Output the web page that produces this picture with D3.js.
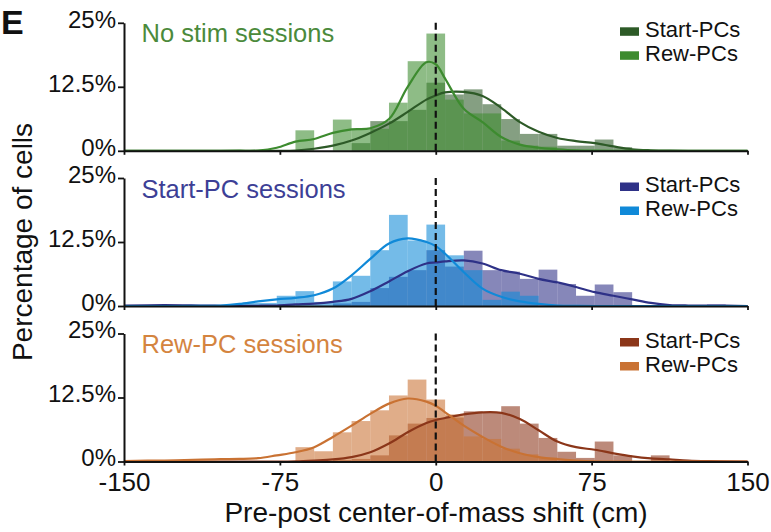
<!DOCTYPE html>
<html><head><meta charset="utf-8">
<script src="https://cdn.jsdelivr.net/npm/d3@7"></script>
<style>body{margin:0;background:#fff}svg{display:block;font-family:"Liberation Sans",Arial,sans-serif}</style>
</head><body><svg id="c" width="771" height="532"></svg>
<script>
// ---- data (percentage of cells) ----
const binCenters = [-90,-81,-72,-63,-54,-45,-36,-27,-18,-9,0,9,18,27,36,45,54,63,72,81,90,99,108,117,126,135];
const binWidth = 9;
const panelTitles = ["No stim sessions","Start-PC sessions","Rew-PC sessions"];
const seriesNames = ["Start-PCs","Rew-PCs"];
const xTicks = [-150,-75,0,75,150];
const yTicks = [0,12.5,25];

const noStimStart = [0,0,0,0,0,0,1.5,5.8,5.8,8.0,13.3,11.0,12.0,9.1,6.2,3.3,3.3,1.0,1.0,2.2,0.7,0,0,0,0,0];
const noStimRew   = [0,0,0,4.0,0,6.1,4.3,4.3,9.4,17.5,22.9,10.0,7.3,7.3,2.0,1.0,0.8,0,0,0,0,0,0,0,0,0];
const startSesStart = [0,0,0,0,0,0.5,0.8,3.5,5.7,7.0,10.9,7.7,10.8,7.0,6.7,5.3,7.1,4.3,2.0,4.2,2.7,0,0,0,0,0.3];
const startSesRew   = [0.6,0.6,2.0,2.9,0.8,4.8,5.9,10.9,17.8,12.8,15.9,9.9,7.0,1.2,2.8,2.0,0,0,0,0,0,0,0,0,0,0];
const rewSesStart = [0,0,0,0,0,0.3,0.5,1.2,5.1,7.4,8.5,8.6,9.8,9.6,10.8,7.4,4.6,1.9,0.7,3.9,1.2,0,1.2,0,0,0];
const rewSesRew   = [0,0,0,2.8,2.0,5.7,7.9,10.0,12.9,16.0,12.1,9.2,4.9,4.4,2.5,1.4,0.8,0,0,0,0,0,0,0,0,0];

// density curves (percent)
const curveX = [-150,-130.5,-112.5,-103.5,-94.5,-85.5,-76.5,-67.5,-58.5,-49.5,-40.5,-31.5,-22.5,-13.5,-4.5,0,4.5,13.5,22.5,31.5,40.5,49.5,58.5,67.5,76.5,85.5,94.5,103.5,112.5,121.5,130.5,150];
const noStimStartCurve = [0,0,0,0,0,0,0,0.05,0.4,1.0,2.0,3.5,5.3,7.6,10.0,10.8,11.4,11.5,10.7,8.4,5.6,3.7,2.5,1.9,1.5,0.85,0.3,0.1,0.02,0,0,0];
const noStimRewCurve   = [0,0,0,0,0.02,0.05,0.6,1.8,2.3,3.5,4.2,4.4,6.2,12.5,17.3,16.9,14.1,8.2,5.6,2.7,1.2,0.6,0.3,0.1,0.05,0,0,0,0,0,0,0];
const startSesStartCurve = [0.1,0.2,0.1,0.05,0.05,0.05,0.1,0.3,0.45,0.8,1.4,2.9,4.8,6.8,8.3,8.5,8.7,8.9,8.3,7.0,6.3,5.3,4.6,3.7,2.7,2.0,1.3,0.6,0.2,0.1,0.1,0];
const startSesRewCurve   = [0,0,0.02,0.1,0.4,0.9,1.3,1.6,2.1,3.4,6.0,9.2,12.2,13.2,12.5,11.7,10.2,6.6,3.4,1.8,0.9,0.4,0.1,0.02,0,0,0,0,0,0,0,0];
const rewSesStartCurve = [0,0,0,0,0,0,0,0.05,0.2,0.4,0.85,1.8,3.5,5.7,7.5,8.1,8.5,9.2,9.6,9.5,8.3,6.1,3.9,2.8,2.3,1.6,1.0,0.6,0.4,0.2,0.1,0];
const rewSesRewCurve   = [0.1,0.2,0.35,0.45,0.5,0.65,1.2,1.8,2.8,4.8,7.0,9.3,11.3,12.3,11.7,10.9,9.6,7.0,4.8,2.9,1.6,0.85,0.45,0.2,0.05,0,0,0,0,0,0,0];

// ---- styles ----
const panelColors = [
  {title:"#4b8a3b", start:"#2d5a27", rew:"#3d8b2f"},
  {title:"#3d3f96", start:"#2e3187", rew:"#1089d8"},
  {title:"#d4843f", start:"#8b3619", rew:"#c97233"}
];
const panels = [
  {bars:[noStimStart,noStimRew], curves:[noStimStartCurve,noStimRewCurve]},
  {bars:[startSesStart,startSesRew], curves:[startSesStartCurve,startSesRewCurve]},
  {bars:[rewSesStart,rewSesRew], curves:[rewSesStartCurve,rewSesRewCurve]}
];

const svg = d3.select("#c");
const x = d3.scaleLinear().domain([-150,150]).range([124,747.5]);
const panelTops = [22.8,178,333.5], panelH = 128;

panels.forEach((p,i)=>{
  const top = panelTops[i];
  const y = d3.scaleLinear().domain([0,25]).range([top+panelH, top]);
  const g = svg.append("g");
  const cols = [panelColors[i].start, panelColors[i].rew];
  // bars
  p.bars.forEach((vals,s)=>{
    g.append("g").selectAll("rect").data(binCenters.map((c,k)=>({c,v:vals[k]})).filter(d=>d.v>0))
      .join("rect")
      .attr("x",d=>x(d.c-binWidth/2)).attr("width",d=>x(d.c+binWidth/2)-x(d.c-binWidth/2))
      .attr("y",d=>y(d.v)).attr("height",d=>y(0)-y(d.v))
      .attr("fill",cols[s]).attr("fill-opacity",0.58);
  });
  // curves
  const line = d3.line().x((d,k)=>x(curveX[k])).y(d=>y(d)).curve(d3.curveCatmullRom.alpha(0.5));
  p.curves.forEach((vals,s)=>{
    g.append("path").attr("d",line(vals)).attr("fill","none").attr("stroke",cols[s]).attr("stroke-width",2.2);
  });
  // axes
  const ya = d3.axisLeft(y).tickValues(yTicks).tickFormat(d=>d+"%").tickSize(6).tickSizeOuter(0).tickPadding(2);
  const yg = g.append("g").attr("transform",`translate(${x(-150)},0)`).call(ya);
  yg.selectAll("text").attr("font-size",24).attr("fill","#111").attr("dy","0.18em");
  const xa = d3.axisBottom(x).tickValues(xTicks).tickFormat(d=>String(d)).tickSize(4).tickSizeOuter(0).tickPadding(7);
  const xg = g.append("g").attr("transform",`translate(0,${y(0)})`).call(xa);
  xg.selectAll("text").attr("font-size",26).attr("fill","#111");
  if(i<2) xg.selectAll("text").remove();
  [yg,xg].forEach(a=>{a.select(".domain").attr("stroke","#111").attr("stroke-width",2);a.selectAll(".tick line").attr("stroke","#111").attr("stroke-width",1.8);});
  // zero dashed line
  g.append("line").attr("x1",x(0)).attr("x2",x(0)).attr("y1",top).attr("y2",y(0))
    .attr("stroke","#111").attr("stroke-width",2.2).attr("stroke-dasharray","7,4");
  // title
  g.append("text").attr("x",141.5).attr("y",top+19.5).attr("font-size",25.5).attr("fill",panelColors[i].title).text(panelTitles[i]);
  // legend
  seriesNames.forEach((n,s)=>{
    g.append("rect").attr("x",620).attr("y",top+4.5+s*24).attr("width",19).attr("height",8.5).attr("fill",cols[s]);
    g.append("text").attr("x",645).attr("y",top+14+s*24).attr("font-size",22).attr("fill","#111").text(n);
  });
});

svg.append("text").attr("x",436).attr("y",521.5).attr("text-anchor","middle").attr("font-size",28).attr("fill","#111").text("Pre-post center-of-mass shift (cm)");
svg.append("text").attr("transform","translate(32,242) rotate(-90)").attr("text-anchor","middle").attr("font-size",28).attr("fill","#111").text("Percentage of cells");
svg.append("text").attr("x",1).attr("y",34).attr("font-size",34).attr("font-weight","bold").attr("fill","#111").text("E");
</script></body></html>
